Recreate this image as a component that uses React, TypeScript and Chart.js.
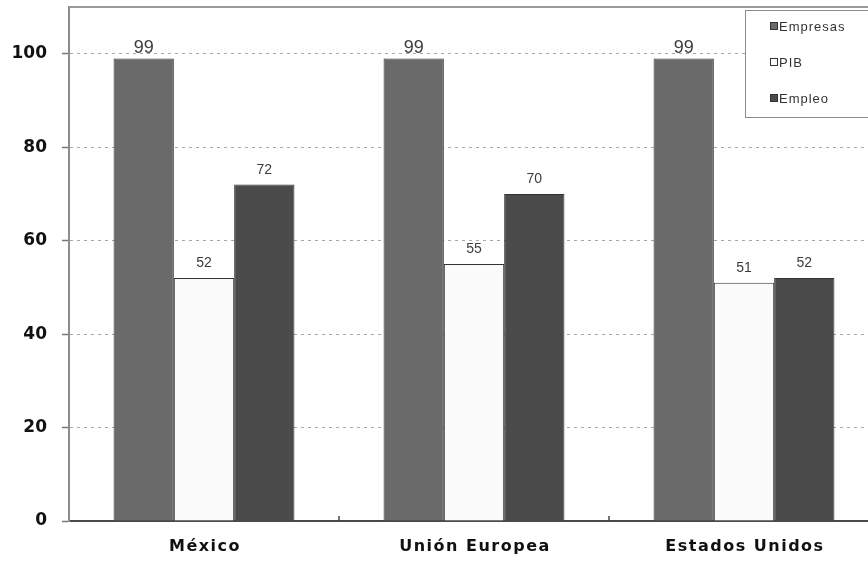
import React, { useEffect, useRef } from "react";
import { Chart, registerables } from "chart.js";

Chart.register(...registerables);

const categories = ["México", "Unión Europea", "Estados Unidos"];
const seriesNames = ["Empresas", "PIB", "Empleo"];
const empresas = [99, 99, 99];
const pib = [52, 55, 51];
const empleo = [72, 70, 52];
const yTicks = [0, 20, 40, 60, 80, 100];

const fills = ["#6a6a6a", "#fafafa", "#4b4b4b"];

// value labels above each bar
const valueLabels = {
  id: "valueLabels",
  afterDatasetsDraw(chart: any) {
    const { ctx } = chart;
    ctx.save();
    ctx.textAlign = "center";
    ctx.textBaseline = "alphabetic";
    chart.data.datasets.forEach((ds: any, di: number) => {
      const meta = chart.getDatasetMeta(di);
      const big = di === 0;
      ctx.font = big ? "18px 'Liberation Sans', Arial" : "14px 'Liberation Sans', Arial";
      ctx.fillStyle = "#3c3c3c";
      meta.data.forEach((bar: any, i: number) => {
        const off = big ? 5 : 11;
        ctx.fillText(String(ds.data[i]), bar.x, bar.y - off);
      });
    });
    ctx.restore();
  },
};

// plot frame, category labels and separators, boxed legend
const frameAndLegend = {
  id: "frameAndLegend",
  afterDraw(chart: any) {
    const { ctx, chartArea } = chart;
    const xs = chart.scales.x;
    ctx.save();
    // top frame line
    ctx.strokeStyle = "#9a9a9a";
    ctx.lineWidth = 2;
    ctx.beginPath();
    ctx.moveTo(chartArea.left, chartArea.top);
    ctx.lineTo(chartArea.right, chartArea.top);
    ctx.stroke();
    // small upward ticks between categories
    ctx.strokeStyle = "#444";
    ctx.lineWidth = 1.5;
    for (let i = 0; i < categories.length - 1; i++) {
      const x = Math.round((xs.getPixelForValue(i) + xs.getPixelForValue(i + 1)) / 2);
      ctx.beginPath();
      ctx.moveTo(x, chartArea.bottom);
      ctx.lineTo(x, chartArea.bottom - 5);
      ctx.stroke();
    }
    // category labels
    ctx.font = "bold 16px 'DejaVu Sans'";
    ctx.fillStyle = "#111";
    ctx.textAlign = "center";
    ctx.textBaseline = "middle";
    (ctx as any).letterSpacing = "1.5px";
    categories.forEach((c, i) => {
      ctx.fillText(c, xs.getPixelForValue(i) + 1, chartArea.bottom + 26);
    });
    // legend box
    const bx = 745.5;
    const by = 10.5;
    (ctx as any).letterSpacing = "1px";
    ctx.fillStyle = "#ffffff";
    ctx.fillRect(bx, by, 200, 107);
    ctx.strokeStyle = "#8a8a8a";
    ctx.lineWidth = 1;
    ctx.strokeRect(bx, by, 200, 107);
    ctx.font = "13px 'Liberation Sans', Arial";
    ctx.textBaseline = "middle";
    ctx.textAlign = "left";
    seriesNames.forEach((name, i) => {
      const cy = 26 + i * 36;
      ctx.fillStyle = fills[i];
      ctx.fillRect(770.5, cy - 3.5, 7, 7);
      ctx.strokeStyle = "#333";
      ctx.strokeRect(770.5, cy - 3.5, 7, 7);
      ctx.fillStyle = "#333";
      ctx.fillText(name, 779, cy + 1);
    });
    (ctx as any).letterSpacing = "0px";
    ctx.restore();
  },
};

export default function App() {
  const canvasRef = useRef<HTMLCanvasElement | null>(null);

  useEffect(() => {
    const canvas = canvasRef.current;
    if (!canvas) return;
    const values = [empresas, pib, empleo];
    const chart = new Chart(canvas, {
      type: "bar",
      data: {
        labels: categories,
        datasets: seriesNames.map((name, i) => ({
          label: name,
          data: values[i],
          backgroundColor: fills[i],
          borderColor: "#333333",
          borderWidth: 1,
          barPercentage: 1,
          categoryPercentage: 0.67,
        })),
      },
      options: {
        responsive: false,
        animation: false,
        devicePixelRatio: 1,
        layout: { padding: { top: 7, right: 1, left: 0, bottom: 0 } },
        plugins: {
          legend: { display: false },
          tooltip: { enabled: false },
        },
        scales: {
          x: {
            grid: { display: true, drawOnChartArea: false, drawTicks: false, color: "transparent" },
            border: { display: true, color: "#4a4a4a", width: 2 },
            ticks: { display: false },
            afterFit(scale: any) {
              scale.height = 44;
              scale.paddingLeft = 0;
              scale.paddingRight = 0;
            },
          },
          y: {
            min: 0,
            max: 110,
            afterBuildTicks(scale: any) {
              scale.ticks = yTicks.map((v) => ({ value: v }));
            },
            grid: {
              color: (c: any) => (c.tick && c.tick.value === 0 ? "transparent" : "#a8a8a8"),
              lineWidth: 1,
              tickLength: 7,
              tickColor: "#777",
              tickWidth: 1.5,
            },
            border: { display: true, color: "#8c8c8c", width: 2, dash: [3, 4] },
            ticks: {
              padding: 15,
              color: "#111",
              font: { family: "'DejaVu Sans'", size: 17, weight: "bold" },
            },
            afterFit(scale: any) {
              scale.width = 69;
              scale.paddingTop = 0;
              scale.paddingBottom = 0;
            },
          },
        },
      },
      plugins: [valueLabels, frameAndLegend],
    });
    return () => chart.destroy();
  }, []);

  return (
    <div
      style={{
        position: "fixed",
        left: 0,
        top: 0,
        width: 868,
        height: 565,
        overflow: "hidden",
        background: "#ffffff",
      }}
    >
      <canvas ref={canvasRef} width={880} height={565} style={{ display: "block" }} />
    </div>
  );
}
